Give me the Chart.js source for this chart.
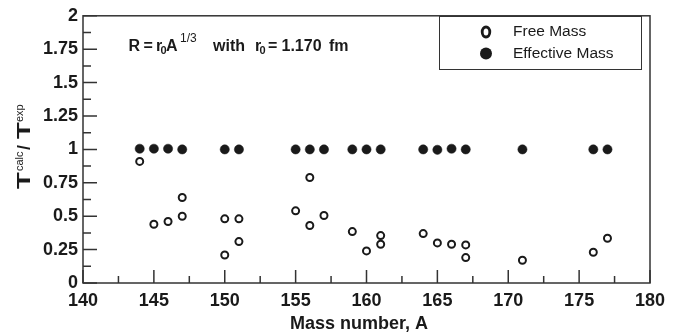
<!DOCTYPE html>
<html>
<head>
<meta charset="utf-8">
<script src="https://cdn.jsdelivr.net/npm/chart.js@4/dist/chart.umd.min.js"></script>
<style>
  html, body { margin: 0; padding: 0; background: #fff; }
  canvas { display: block; }
</style>
</head>
<body>
<canvas id="chart" width="679" height="336"></canvas>
<script>
const xTicks = [140, 145, 150, 155, 160, 165, 170, 175, 180];
const yTicks = [0, 0.25, 0.5, 0.75, 1, 1.25, 1.5, 1.75, 2];

// free mass (open circles)
const freeA = [144, 145, 146, 147, 147, 150, 150, 151, 151, 155, 156, 156, 157,
  159, 160, 161, 161, 164, 165, 166, 167, 167, 171, 176, 177];
const freeRatio = [0.91, 0.44, 0.46, 0.50, 0.64, 0.48, 0.21, 0.48, 0.31, 0.54, 0.79, 0.43, 0.505,
  0.385, 0.24, 0.355, 0.29, 0.37, 0.30, 0.29, 0.285, 0.19, 0.17, 0.23, 0.335];

// effective mass (filled circles)
const effA = [144, 145, 146, 147, 150, 151, 155, 156, 157, 159, 160, 161, 164, 165, 166, 167, 171, 176, 177];
const effRatio = [1.005, 1.005, 1.005, 1.0, 1.0, 1.0, 1.0, 1.0, 1.0, 1.0, 1.0, 1.0, 1.0, 0.997, 1.005, 1.0, 1.0, 1.0, 1.0];

const F = '"Liberation Sans", Arial, Helvetica, sans-serif';
const INK = '#1a1a1a';

const pts = (xs, ys) => xs.map((v, i) => ({ x: v, y: ys[i] }));

const frame = {
  id: 'frame',
  beforeDatasetsDraw(chart) {
    const { ctx, chartArea: a, scales: { x, y } } = chart;
    ctx.save();
    ctx.strokeStyle = '#333';
    ctx.lineWidth = 1.5;
    ctx.strokeRect(a.left, a.top, a.right - a.left, a.bottom - a.top);
    ctx.beginPath();
    xTicks.forEach((v, i) => {
      const px = x.getPixelForValue(v);
      ctx.moveTo(px, a.bottom); ctx.lineTo(px, a.bottom - 13);
      if (i < xTicks.length - 1) {
        const m = x.getPixelForValue((v + xTicks[i + 1]) / 2);
        ctx.moveTo(m, a.bottom); ctx.lineTo(m, a.bottom - 7);
      }
    });
    yTicks.forEach((v, i) => {
      const py = y.getPixelForValue(v);
      ctx.moveTo(a.left, py); ctx.lineTo(a.left + 14, py);
      if (i < yTicks.length - 1) {
        const m = y.getPixelForValue((v + yTicks[i + 1]) / 2);
        ctx.moveTo(a.left, m); ctx.lineTo(a.left + 8, m);
      }
    });
    ctx.stroke();
    ctx.restore();
  },
  afterDraw(chart) {
    const { ctx } = chart;
    ctx.save();
    ctx.fillStyle = INK;
    ctx.textBaseline = 'alphabetic';
    ctx.textAlign = 'left';
    const put = (t, px, py, f) => { ctx.font = f; ctx.fillText(t, px, py); };

    // annotation: R = r0 A^1/3   with   r0 = 1.170 fm
    const big = `bold 16px ${F}`, sub = `bold 11px ${F}`, sup = `12px ${F}`;
    put('R', 128.5, 51, big);
    put('=', 143.5, 51, big);
    put('r', 156, 51, big);
    put('0', 160.5, 53.5, sub);
    put('A', 166, 51, big);
    put('1/3', 180, 41.5, sup);
    put('with', 213, 51, big);
    put('r', 255, 51, big);
    put('0', 259.5, 53.5, sub);
    put('=', 268, 51, big);
    put('1.170', 281.5, 51, big);
    put('fm', 329, 51, big);

    // x title
    ctx.textAlign = 'center';
    put('Mass number, A', 359, 329, `bold 18px ${F}`);

    // y title
    ctx.save();
    ctx.translate(30, 147);
    ctx.rotate(-Math.PI / 2);
    ctx.textAlign = 'left';
    const bigT = (tx) => {
      ctx.save(); ctx.font = `bold 19px ${F}`; ctx.translate(tx, 0); ctx.scale(1.45, 1);
      ctx.fillText('T', 0, 0); ctx.restore();
    };
    bigT(-42);
    put('calc', -24, -7.5, `11px ${F}`);
    put('/', -3, 0, `bold 18px ${F}`);
    bigT(8);
    put('exp', 25, -7.5, `11px ${F}`);
    ctx.restore();

    // legend
    ctx.textAlign = 'left';
    ctx.strokeStyle = '#333';
    ctx.lineWidth = 1;
    ctx.strokeRect(439.5, 16.5, 202, 53);
    ctx.lineWidth = 2.8;
    ctx.strokeStyle = INK;
    ctx.beginPath(); ctx.ellipse(486, 32, 3.8, 5, 0, 0, Math.PI * 2); ctx.stroke();
    ctx.beginPath(); ctx.arc(486, 53.5, 6, 0, Math.PI * 2); ctx.fill();
    ctx.textBaseline = 'middle';
    put('Free Mass', 513, 32, `15.5px ${F}`);
    put('Effective Mass', 513, 54, `15.5px ${F}`);
    ctx.restore();
  }
};

new Chart(document.getElementById('chart'), {
  type: 'scatter',
  data: {
    datasets: [{
      label: 'Free Mass',
      data: pts(freeA, freeRatio),
      pointRadius: 3.5,
      pointBorderWidth: 2,
      borderColor: INK,
      backgroundColor: '#fff'
    }, {
      label: 'Effective Mass',
      data: pts(effA, effRatio),
      pointRadius: 4.6,
      pointBorderWidth: 0.5,
      borderColor: INK,
      backgroundColor: INK
    }]
  },
  options: {
    responsive: false,
    animation: false,
    devicePixelRatio: 1,
    layout: { padding: { top: 12, right: 29, left: 0, bottom: 0 } },
    plugins: { legend: { display: false }, tooltip: { enabled: false } },
    scales: {
      x: {
        type: 'linear',
        min: 140,
        max: 180,
        afterBuildTicks: s => { s.ticks = xTicks.map(v => ({ value: v })); },
        afterFit: s => { s.height = 53; },
        grid: { display: false, drawTicks: false },
        border: { display: false },
        ticks: { padding: 7, color: INK, font: { family: F, size: 18, weight: 'bold' } }
      },
      y: {
        type: 'linear',
        min: 0,
        max: 2,
        afterBuildTicks: s => { s.ticks = yTicks.map(v => ({ value: v })); },
        afterFit: s => { s.width = 83; },
        grid: { display: false, drawTicks: false },
        border: { display: false },
        ticks: { padding: 5, color: INK, font: { family: F, size: 18, weight: 'bold' },
          callback: v => String(v) }
      }
    }
  },
  plugins: [frame]
});
</script>
</body>
</html>
